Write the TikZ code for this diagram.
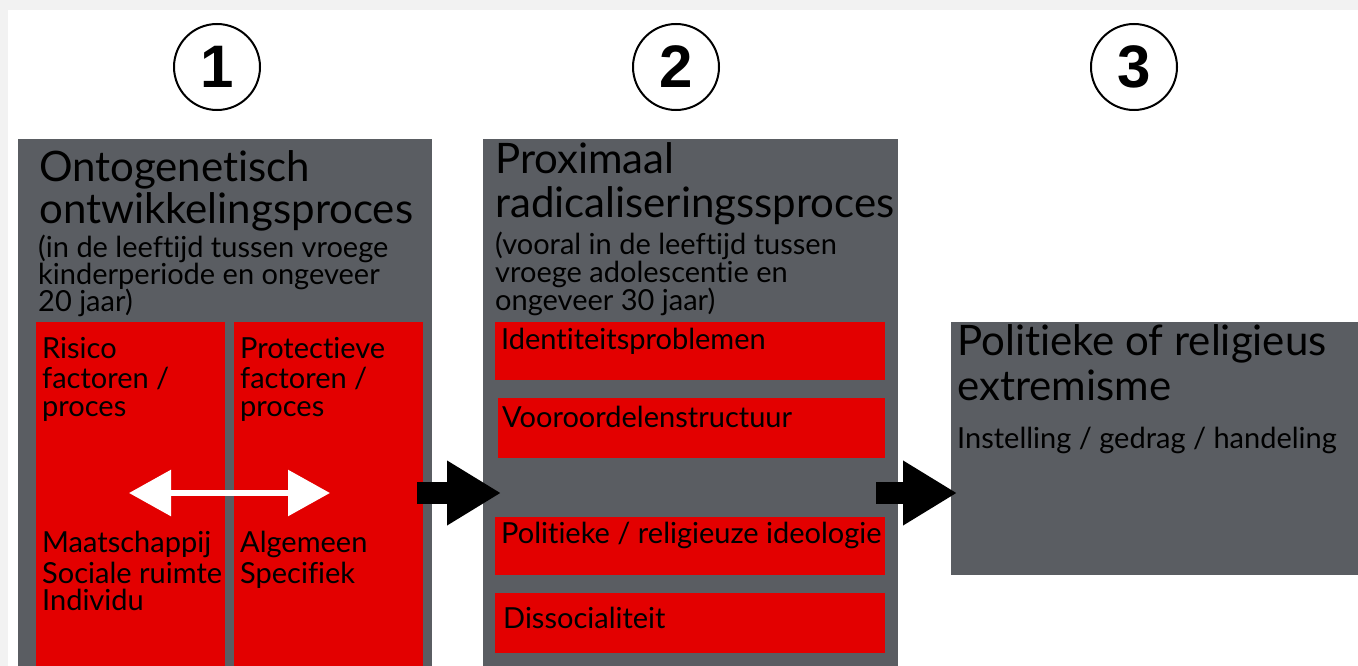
\documentclass[tikz,border=0pt]{standalone}
\usepackage{fontspec}
\setmainfont{Lato}[Ligatures={NoCommon}]
\newfontfamily\digitfont{Liberation Sans}
\usetikzlibrary{arrows.meta}
\definecolor{boxgray}{HTML}{5A5D62}
\definecolor{boxred}{HTML}{E30000}
\definecolor{framegray}{HTML}{F2F2F2}
\tikzset{
  graybox/.style={fill=boxgray, draw=none, inner sep=0pt, anchor=north west},
  redbox/.style={fill=boxred, draw=none, inner sep=0pt, anchor=north west},
  numcircle/.style={circle, draw=black, line width=2pt, minimum size=86pt, inner sep=0pt, font=\digitfont\bfseries\fontsize{60}{62}\selectfont},
  titletxt/.style={anchor=base west, inner sep=0pt, text=black, font=\fontsize{42}{46}\selectfont},
  smalltxt/.style={anchor=base west, inner sep=0pt, text=black, font=\fontsize{29}{32}\selectfont},
  redtxt/.style={anchor=base west, inner sep=0pt, text=black, font=\fontsize{29}{32}\selectfont},
  bigarrow/.style={draw=black, line width=22pt, -{Triangle[length=54pt,width=61pt]}},
  duoarrow/.style={draw=white, line width=6pt, {Triangle[length=42pt,width=45pt]}-{Triangle[length=42pt,width=45pt]}}
}
\begin{document}
\begin{tikzpicture}[x=1pt,y=-1pt]
\useasboundingbox (0,0) rectangle (1358,666);
\fill[framegray] (0,0) rectangle (1358,666);
\fill[white] (8,10) rectangle (1358,666);

% number circles
\node[numcircle] (c1) at (217,67) {1};
\node[numcircle] (c2) at (676,67) {2};
\node[numcircle] (c3) at (1134,67) {3};

% box 1
\node[graybox, minimum width=414pt, minimum height=527pt] (b1) at (18,139) {};
\node[redbox, minimum width=189pt, minimum height=344pt] (r1a) at (36,322) {};
\node[redbox, minimum width=189pt, minimum height=344pt] (r1b) at (234,322) {};
\node[titletxt] (t1a) at (39,182) {Ontogenetisch};
\node[titletxt] (t1b) at (39,223) {ontwikkelingsproces};
\node[smalltxt] (s1a) at (38,257) {(in de leeftijd tussen vroege};
\node[smalltxt] (s1b) at (38,284) {kinderperiode en ongeveer};
\node[smalltxt] (s1c) at (38,311) {20 jaar)};
\node[redtxt] (ra1) at (42,358) {Risico};
\node[redtxt] (ra2) at (42,388) {factoren /};
\node[redtxt] (ra3) at (42,416) {proces};
\node[redtxt] (rb1) at (240,358) {Protectieve};
\node[redtxt] (rb2) at (240,388) {factoren /};
\node[redtxt] (rb3) at (240,416) {proces};
\node[redtxt] (ra4) at (42,552) {Maatschappij};
\node[redtxt] (ra5) at (42,583) {Sociale ruimte};
\node[redtxt] (ra6) at (42,610) {Individu};
\node[redtxt] (rb4) at (240,552) {Algemeen};
\node[redtxt] (rb5) at (240,583) {Specifiek};
\coordinate (wl) at (129,493);
\coordinate (wr) at (330,493);
\draw[duoarrow] (wl) -- (wr);

% box 2
\node[graybox, minimum width=415pt, minimum height=527pt] (b2) at (483,139) {};
\node[redbox, minimum width=390pt, minimum height=58pt] (r2a) at (495,322) {};
\node[redbox, minimum width=387pt, minimum height=60pt] (r2b) at (498,398) {};
\node[redbox, minimum width=390pt, minimum height=58pt] (r2c) at (495,517) {};
\node[redbox, minimum width=390pt, minimum height=60pt] (r2d) at (495,593) {};
\node[titletxt] (t2a) at (495,174) {Proximaal};
\node[titletxt] (t2b) at (495,217) {radicaliseringssproces};
\node[smalltxt] (s2a) at (495,254) {(vooral in de leeftijd tussen};
\node[smalltxt] (s2b) at (495,282) {vroege adolescentie en};
\node[smalltxt] (s2c) at (495,310) {ongeveer 30 jaar)};
\node[redtxt] (l2a) at (501,349) {Identiteitsproblemen};
\node[redtxt] (l2b) at (502,427) {Vooroordelenstructuur};
\node[redtxt] (l2c) at (501,543) {Politieke / religieuze ideologie};
\node[redtxt] (l2d) at (503,628) {Dissocialiteit};

% box 3
\node[graybox, minimum width=407pt, minimum height=253pt] (b3) at (951,322) {};
\node[titletxt] (t3a) at (957,355) {Politieke of religieus};
\node[titletxt] (t3b) at (957,400) {extremisme};
\node[smalltxt] (s3a) at (957,448) {Instelling / gedrag / handeling};

% connectors
\coordinate (a1s) at (417,493);
\coordinate (a1e) at (501,493);
\coordinate (a2s) at (876,493);
\coordinate (a2e) at (957,493);
\draw[bigarrow] (a1s) -- (a1e);
\draw[bigarrow] (a2s) -- (a2e);
\end{tikzpicture}
\end{document}
